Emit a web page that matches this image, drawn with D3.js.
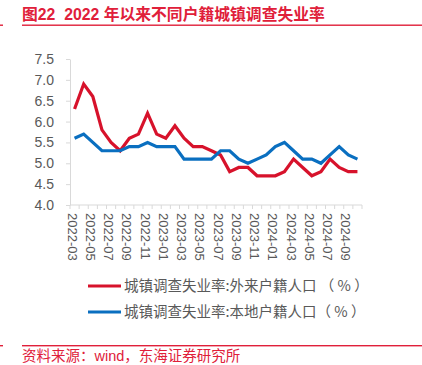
<!DOCTYPE html>
<html>
<head>
<meta charset="utf-8">
<script src="https://cdn.jsdelivr.net/npm/d3@7"></script>
<style>
  body { margin: 0; background: #fff; }
  svg { display: block; font-family: "Liberation Sans", Arial, "Noto Sans CJK SC", sans-serif; }
  text { white-space: pre; }
</style>
</head>
<body>
<svg id="chart"></svg>
<script>
// data
const months = [
  '2022-03','2022-04','2022-05','2022-06','2022-07','2022-08','2022-09','2022-10','2022-11','2022-12',
  '2023-01','2023-02','2023-03','2023-04','2023-05','2023-06','2023-07','2023-08','2023-09','2023-10','2023-11','2023-12',
  '2024-01','2024-02','2024-03','2024-04','2024-05','2024-06','2024-07','2024-08','2024-09','2024-10'
];
const migrantRate = [
  6.3, 6.9, 6.6, 5.8, 5.5, 5.3, 5.6, 5.7, 6.2, 5.7,
  5.6, 5.9, 5.6, 5.4, 5.4, 5.3, 5.2, 4.8, 4.9, 4.9, 4.7, 4.7,
  4.7, 4.8, 5.1, 4.9, 4.7, 4.8, 5.1, 4.9, 4.8, 4.8
];
const localRate = [
  5.6, 5.7, 5.5, 5.3, 5.3, 5.3, 5.4, 5.4, 5.5, 5.4,
  5.4, 5.4, 5.1, 5.1, 5.1, 5.1, 5.3, 5.3, 5.1, 5.0, 5.1, 5.2,
  5.4, 5.5, 5.3, 5.1, 5.1, 5.0, 5.2, 5.4, 5.2, 5.1
];
const yTicks = [4.0, 4.5, 5.0, 5.5, 6.0, 6.5, 7.0, 7.5];
const seriesNames = ['城镇调查失业率:外来户籍人口 （ % ）', '城镇调查失业率:本地户籍人口（ % ）'];
const seriesColors = ['#d7122b', '#0a6fc0'];

const W = 422, H = 365;
const red = '#e0203a';

const svg = d3.select('#chart').attr('width', W).attr('height', H);

// title + rules
svg.append('text')
    .attr('x', 22).attr('y', 19.5)
    .attr('fill', red)
    .attr('font-size', 15.8)
    .attr('font-weight', 'bold')
    .text('图22  2022 年以来不同户籍城镇调查失业率');
svg.append('rect').attr('x', 22).attr('y', 24.5).attr('width', W - 22).attr('height', 1.4).attr('fill', red);
svg.append('rect').attr('x', 0).attr('y', 24.5).attr('width', 3).attr('height', 1.4).attr('fill', red);
svg.append('rect').attr('x', 22).attr('y', 345).attr('width', W - 22).attr('height', 1.4).attr('fill', red);
svg.append('rect').attr('x', 0).attr('y', 345).attr('width', 3).attr('height', 1.4).attr('fill', red);
svg.append('text')
    .attr('x', 22).attr('y', 361)
    .attr('fill', red)
    .attr('font-size', 14.5)
    .text('资料来源：wind，东海证券研究所');

// scales
const x = d3.scaleBand()
    .domain(months)
    .range([70, 362]);
const y = d3.scaleLinear()
    .domain([4.0, 7.5])
    .range([205, 59]);

const axisColor = '#d9d9d9';
const textColor = '#595959';

// y axis
const yAxis = svg.append('g')
    .attr('transform', 'translate(70,0)')
    .call(d3.axisLeft(y).tickValues(yTicks).tickFormat(d3.format('.1f')).tickSize(4).tickSizeOuter(0));
yAxis.select('.domain').attr('stroke', axisColor);
yAxis.selectAll('line').attr('stroke', axisColor);
yAxis.selectAll('text')
    .attr('fill', textColor)
    .attr('font-size', 14)
    .attr('x', -16)
    .style('font-family', '"Liberation Sans", Arial, sans-serif');

// x axis: ticks at band boundaries
const xAxis = svg.append('g')
    .attr('transform', 'translate(0,205)');
xAxis.append('line')
    .attr('x1', 70).attr('x2', 362)
    .attr('stroke', axisColor);
xAxis.selectAll('line.tick')
    .data(months.concat(['end']))
    .enter()
    .append('line')
    .attr('class', 'tick')
    .attr('x1', (d, i) => 70 + i * x.step())
    .attr('x2', (d, i) => 70 + i * x.step())
    .attr('y1', 0).attr('y2', 4)
    .attr('stroke', axisColor);
xAxis.selectAll('text')
    .data(months.filter((d, i) => i % 2 === 0))
    .enter()
    .append('text')
    .attr('transform', d => 'translate(' + (x(d) + x.bandwidth() / 2 - 3.5) + ',8) rotate(90)')
    .attr('fill', textColor)
    .attr('font-size', 13)
    .attr('dominant-baseline', 'middle')
    .text(d => d);

// lines
const line = d3.line()
    .x((d, i) => x(months[i]) + x.bandwidth() / 2)
    .y(d => y(d));

[migrantRate, localRate].forEach(function(series, k) {
  svg.append('path')
      .datum(series)
      .attr('fill', 'none')
      .attr('stroke', seriesColors[k])
      .attr('stroke-width', 3.2)
      .attr('stroke-linejoin', 'miter')
      .attr('d', line);
});

// legend
seriesNames.forEach(function(name, k) {
  const ly = 286 + k * 26;
  svg.append('line')
      .attr('x1', 88).attr('x2', 121)
      .attr('y1', ly).attr('y2', ly)
      .attr('stroke', seriesColors[k])
      .attr('stroke-width', 3.2);
  svg.append('text')
      .attr('x', 124).attr('y', ly + 5)
      .attr('fill', textColor)
      .attr('font-size', 14.5)
      .style('font-family', '"Noto Sans CJK SC", sans-serif')
      .text(name);
});
</script>
</body>
</html>
